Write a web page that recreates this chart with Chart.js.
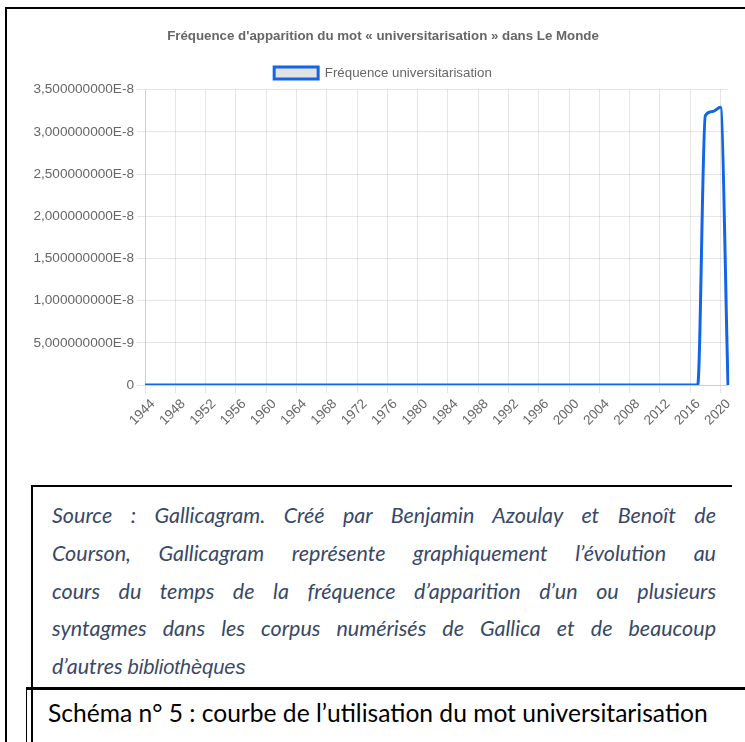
<!DOCTYPE html>
<html><head><meta charset="utf-8">
<script src="https://cdn.jsdelivr.net/npm/chart.js@4.4.1/dist/chart.umd.min.js"></script>
<style>
html,body{margin:0;padding:0;background:#fff;}
body{width:745px;height:742px;position:relative;overflow:hidden;}
#chartBox{position:absolute;left:0;top:0;width:745px;height:470px;}
.ln{position:absolute;background:#000;}
#src{position:absolute;left:52px;top:497px;width:664px;font-family:Lato,sans-serif;font-style:italic;font-size:21.5px;line-height:37.8px;color:#384868;}
#src span{display:block;text-align:justify;text-align-last:justify;white-space:nowrap;}
#src span.last{text-align:left;text-align-last:left;}
#src span.arial{display:inline;font-family:"Liberation Sans",Arial,sans-serif;font-size:20px;}
#schema{position:absolute;left:48px;top:694px;font-family:Lato,sans-serif;font-size:21.5px;line-height:38px;color:#000;white-space:nowrap;}
</style></head>
<body>
<div id="chartBox"><canvas id="c"></canvas></div>
<div class="ln" style="left:5px;top:7px;width:740px;height:2px"></div>
<div class="ln" style="left:5px;top:7px;width:2px;height:735px"></div>
<div class="ln" style="left:31px;top:485px;width:701px;height:2px"></div>
<div class="ln" style="left:31px;top:485px;width:2px;height:257px"></div>
<div class="ln" style="left:26px;top:687px;width:719px;height:3px"></div>
<div class="ln" style="left:26px;top:687px;width:1px;height:55px"></div>
<div id="src">
<span>Source : Gallicagram. Créé par Benjamin Azoulay et Benoît de</span>
<span>Courson, Gallicagram représente graphiquement l’évolution au</span>
<span>cours du temps de la fréquence d’apparition d’un ou plusieurs</span>
<span>syntagmes dans les corpus numérisés de Gallica et de beaucoup</span>
<span class="last">d’autres <span class="arial">bibliothèques</span></span>
</div>
<div id="schema">Schéma n° 5 : courbe de l’utilisation du mot universitarisation</div>
<script>
const years = [1944,1945,1946,1947,1948,1949,1950,1951,1952,1953,1954,1955,1956,1957,1958,1959,1960,1961,1962,1963,1964,1965,1966,1967,1968,1969,1970,1971,1972,1973,1974,1975,1976,1977,1978,1979,1980,1981,1982,1983,1984,1985,1986,1987,1988,1989,1990,1991,1992,1993,1994,1995,1996,1997,1998,1999,2000,2001,2002,2003,2004,2005,2006,2007,2008,2009,2010,2011,2012,2013,2014,2015,2016,2017,2018,2019,2020,2021];
const frequencies = [0,0,0,0,0,0,0,0,0,0,0,0,0,0,0,0,0,0,0,0,0,0,0,0,0,0,0,0,0,0,0,0,0,0,0,0,0,0,0,0,0,0,0,0,0,0,0,0,0,0,0,0,0,0,0,0,0,0,0,0,0,0,0,0,0,0,0,0,0,0,0,0,0,0,3.19e-8,3.24e-8,3.29e-8,0];
const xTickLabels = ['1944','1948','1952','1956','1960','1964','1968','1972','1976','1980','1984','1988','1992','1996','2000','2004','2008','2012','2016','2020'];
const yMax = 3.5e-8;
const yStep = 5e-9;
const seriesLabel = 'Fréquence universitarisation';
const chartTitle = 'Fréquence d\'apparition du mot « universitarisation » dans Le Monde';

function sci(v){
  if (Math.abs(v) < 1e-20) return '0';
  const e = Math.floor(Math.log10(v) + 1e-9);
  const m = v / Math.pow(10, e);
  return m.toFixed(9).replace('.', ',') + 'E' + e;
}
const FONT = '"Liberation Sans", Arial, Helvetica, sans-serif';
const FS = 13.3;
const BLUE = 'rgb(16,102,230)';
Chart.defaults.color = '#666';
Chart.defaults.font.family = FONT;
Chart.defaults.font.size = FS;

const shiftHeader = {
  id: 'shiftHeader',
  afterLayout(chart){
    if (chart.titleBlock) chart.titleBlock.left += 10;
    if (chart.legend) chart.legend.left += 10;
  }
};

new Chart(document.getElementById('c'), {
  type: 'line',
  data: {
    labels: years.map(String),
    datasets: [{
      label: seriesLabel,
      data: frequencies,
      borderColor: BLUE,
      backgroundColor: '#e2e2e2',
      borderWidth: 3,
      pointRadius: 0,
      cubicInterpolationMode: 'monotone',
      fill: false
    }]
  },
  plugins: [shiftHeader],
  options: {
    responsive: true,
    maintainAspectRatio: false,
    animation: false,
    layout: { padding: { top: 18, right: 17, left: 28, bottom: 0 } },
    plugins: {
      title: { display: true, text: chartTitle, color: '#666', font: { size: FS, weight: 'bold' }, padding: { top: 10, bottom: 12.35 } },
      legend: { labels: { boxWidth: 44, boxHeight: 12, padding: 10, color: '#666', font: { size: FS } } },
      tooltip: { enabled: false }
    },
    scales: {
      x: {
        grid: { color: 'rgba(0,0,0,0.1)', tickLength: 8 },
        ticks: {
          autoSkip: false, maxRotation: 45, minRotation: 45, color: '#666', labelOffset: 8,
          font: { size: 13.5 },
          callback: function(val, idx){ const l = String(years[idx]); return xTickLabels.includes(l) ? l : null; }
        },
        afterFit: function(s){ s.height = 85; }
      },
      y: {
        min: 0, max: yMax,
        grid: { color: 'rgba(0,0,0,0.1)', tickLength: 8 },
        ticks: { stepSize: yStep, padding: 3, color: '#666', font: { size: 13.6 }, callback: function(v){ return sci(v); } },
        afterFit: function(s){ s.width = 117; }
      }
    }
  }
});

// fit the caption line to its width in the reference
(function(){
  const el = document.getElementById('schema');
  const target = 660;
  const w = el.getBoundingClientRect().width;
  el.style.fontSize = (21.5 * target / w) + 'px';
})();
</script>
</body></html>
